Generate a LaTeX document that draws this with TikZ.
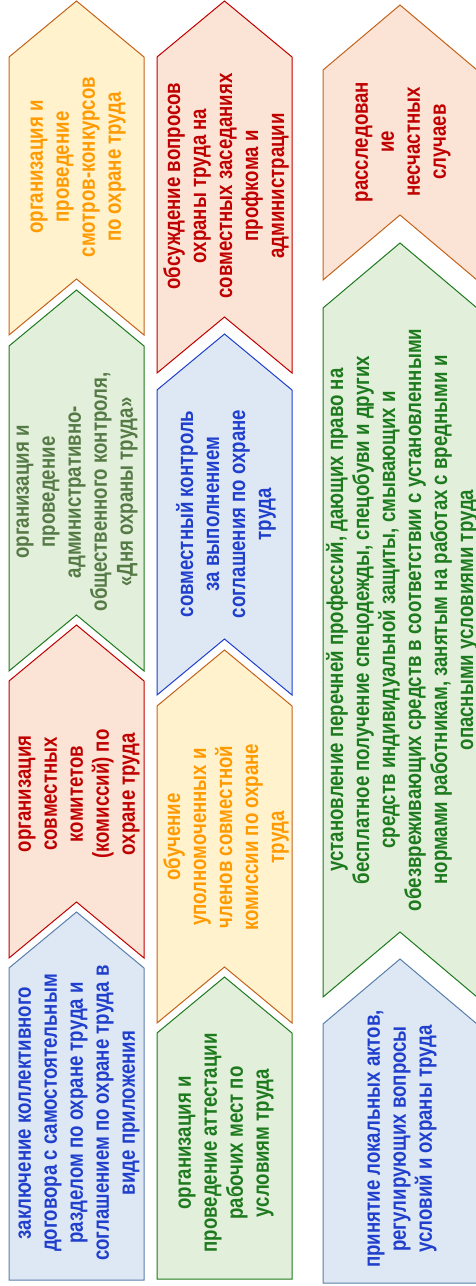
\documentclass[tikz,border=0pt]{standalone}
\usepackage{fontspec}
\newfontfamily\boxfont{Liberation Sans}[BoldFont={Liberation Sans Bold},FakeStretch=0.81]
\usepackage{tikz}
\usetikzlibrary{calc}
\definecolor{ylwfill}{HTML}{FFF2CC}
\definecolor{pchfill}{HTML}{FBE4D5}
\definecolor{grnfill}{HTML}{E2EFDA}
\definecolor{blufill}{HTML}{DEE8F5}
\definecolor{orgline}{HTML}{C5621A}
\definecolor{orgtext}{HTML}{FF9A00}
\definecolor{redline}{HTML}{C00000}
\definecolor{grnline}{HTML}{1E7A1E}
\definecolor{olvtext}{HTML}{557A46}
\definecolor{steel}{HTML}{5A7FA8}
\definecolor{bluline}{HTML}{1F3FCC}
% chevron: style, centre x, half width, depth, tip y, bottom y, notch (1/0)
\newcommand{\chev}[7]{\draw[#1] (#2,#5) -- (#2+#3,#5+#4) -- (#2+#3,#6)
  \ifnum#7=1 -- (#2,#6-#4) \fi -- (#2-#3,#6) -- (#2-#3,#5+#4) -- cycle;}
\begin{document}
\begin{tikzpicture}[x=1pt,y=-1pt, line width=1pt, line join=miter,
  ylw/.style={draw=orgline,fill=ylwfill}, pch/.style={draw=orgline,fill=pchfill},
  red/.style={draw=redline,fill=pchfill}, grn/.style={draw=grnline,fill=grnfill},
  blu/.style={draw=steel,fill=blufill}, bbl/.style={draw=bluline,fill=blufill},
  txt/.style={rotate=90,align=center,inner sep=0pt,text=#1,
    font=\boxfont\bfseries\fontsize{23}{26}\selectfont}]
  \useasboundingbox (0,0) rectangle (476,1286);
  % left column
  \chev{ylw}{76.5}{67.5}{56}{1}{335}{1}
  \chev{grn}{76.5}{67.5}{56}{290}{671}{1}
  \chev{red}{76.5}{67.5}{56}{625}{958}{1}
  \chev{blu}{76.5}{67.5}{56}{912}{1280}{0}
  \node[txt=orgtext] (c1a) at (78,167) {организация и\\проведение\\смотров-конкурсов\\по охране труда};
  \node[txt=olvtext] (c1b) at (77,492) {организация и\\проведение\\административно-\\общественного контроля,\\«Дня охраны труда»};
  \node[txt=redline] (c1c) at (79,794) {организация\\совместных\\комитетов\\(комиссий) по\\охране труда};
  \node[txt=bluline] (c1d) at (79,1113) {заключение коллективного\\договора с самостоятельным\\разделом по охране труда и\\соглашением по охране труда в\\виде приложения};
  % middle column
  \chev{red}{224.5}{67.5}{56}{1}{373}{1}
  \chev{bbl}{224.5}{67.5}{56}{334}{695}{1}
  \chev{ylw}{224.5}{67.5}{56}{650}{1023}{1}
  \chev{grn}{224.5}{67.5}{56}{977}{1279}{0}
  \node[txt=redline] (c2a) at (226,186) {обсуждение вопросов\\охраны труда на\\совместных заседаниях\\профкома и\\администрации};
  \node[txt=bluline] (c2b) at (226,514) {совместный контроль\\за выполнением\\соглашения по охране\\труда};
  \node[txt=orgtext] (c2c) at (226,837) {обучение\\уполномоченных и\\членов совместной\\комиссии по охране\\труда};
  \node[txt=grnline] (c2d) at (226,1143) {организация и\\проведение аттестации\\рабочих мест по\\условиям труда};
  % right column
  \chev{pch}{400}{77}{65}{5}{280}{1}
  \chev{grn}{400}{77}{65}{243}{997}{1}
  \chev{blu}{400}{77}{65}{959}{1283}{0}
  \node[txt=redline] (c3a) at (403,142) {расследован\\ие\\несчастных\\случаев};
  \node[txt=grnline] (c3b) at (402,620) {установление перечней профессий, дающих право на\\бесплатное получение спецодежды, спецобуви и других\\средств индивидуальной защиты, смывающих и\\обезвреживающих средств в соответствии с установленными\\нормами работникам, занятым на работах с вредными и\\опасными условиями труда};
  \node[txt=bluline] (c3c) at (402,1139) {принятие локальных актов,\\регулирующих вопросы\\условий и охраны труда};
\end{tikzpicture}
\end{document}
